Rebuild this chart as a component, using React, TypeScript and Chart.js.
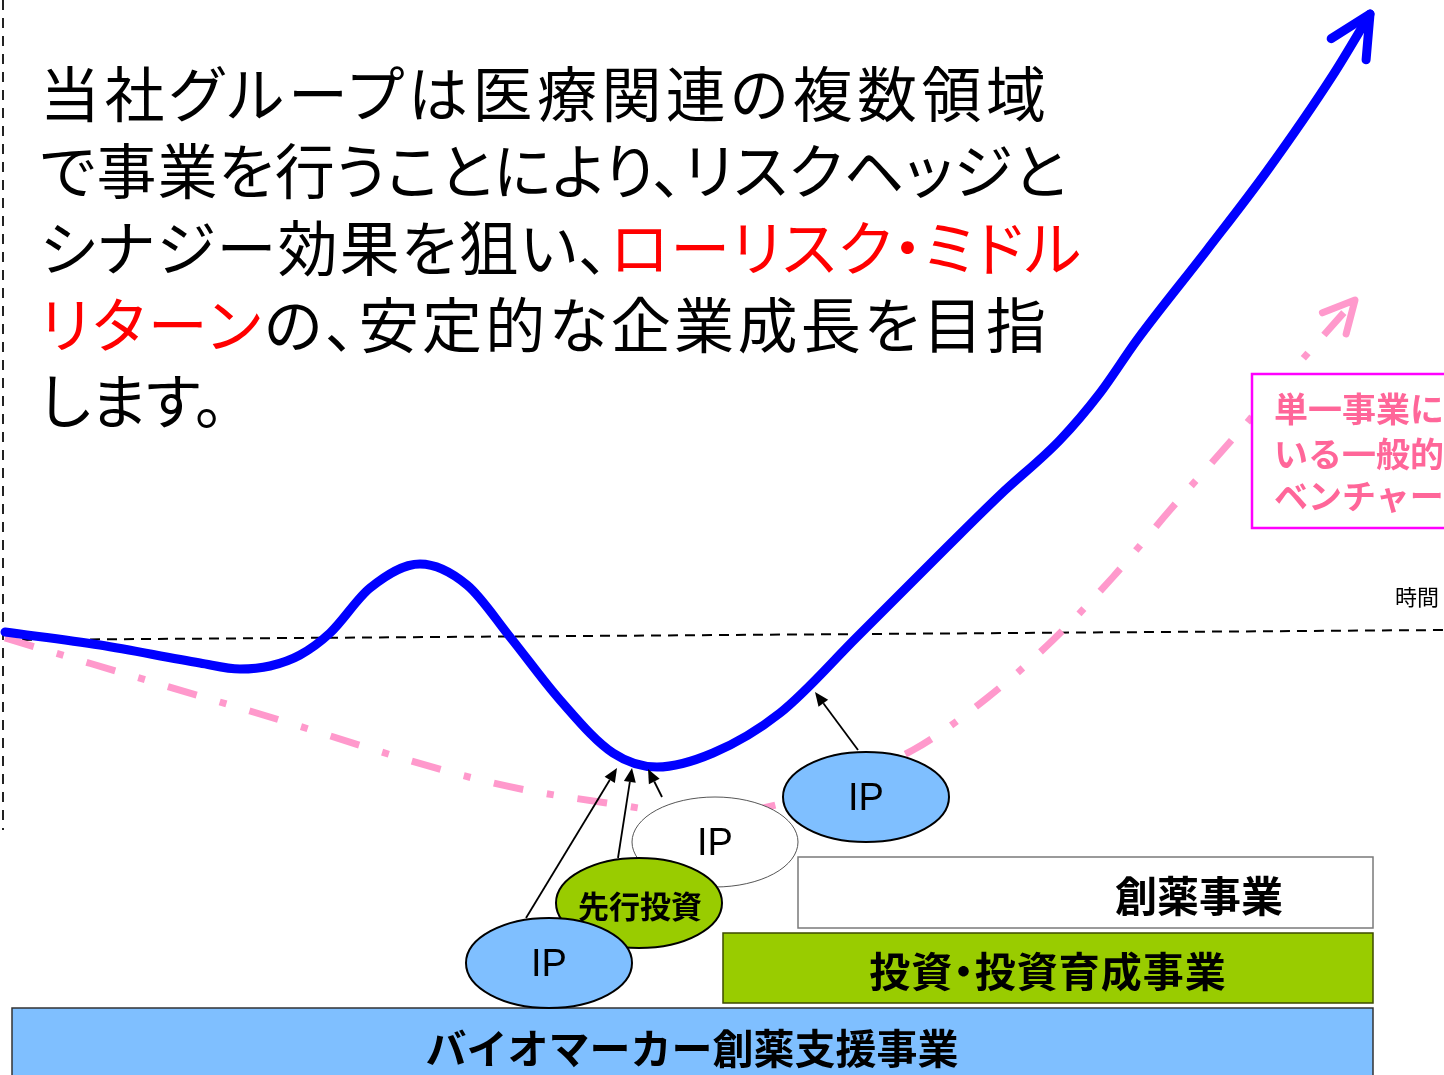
import React, { useEffect, useRef } from "react";
import { Chart, registerables } from "chart.js";

Chart.register(...registerables);

const W = 1444;
const H = 1075;

// ---- data (x = time, y = corporate value relative to the baseline) ----
const blueTime = [5, 100, 200, 240, 270, 300, 330, 370, 420, 467, 510, 560, 613, 657, 713, 780, 857, 947, 1000, 1060, 1100, 1137, 1207, 1267, 1333, 1370];
const blueValue = [8, -5, -23, -29, -26, -15, 7, 52, 76, 55, 3, -60, -113, -127, -113, -73, 3, 93, 145, 200, 247, 300, 390, 469, 565, 626];

const pinkTime = [5, 250, 493, 620, 700, 783, 913, 987, 1053, 1113, 1170, 1230, 1300, 1355];
const pinkValue = [2, -71, -143, -165, -175, -163, -110, -58, 0, 63, 130, 198, 278, 340];

const baseTime = [5, 1444];
const baseValue = [0, 10];

const axisTime = [3, 3];
const axisValue = [640, -190];

const xMin = 0, xMax = 1444, yMin = -435, yMax = 640;

// ---- text ----
const introLines: { parts: { t: string; red?: boolean }[] }[] = [
  { parts: [{ t: "当社グループは医療関連の複数領域" }] },
  { parts: [{ t: "で事業を行うことにより、リスクヘッジと" }] },
  { parts: [{ t: "シナジー効果を狙い、" }, { t: "ローリスク・ミドル", red: true }] },
  { parts: [{ t: "リターン", red: true }, { t: "の、安定的な企業成長を目指" }] },
  { parts: [{ t: "します。" }] },
];
const pinkNote = ["単一事業に依存して", "いる一般的なバイオ", "ベンチャーの成長"];
const timeLabel = "時間";
const ipLabel = "IP";
const advanceLabel = "先行投資";
const businessLabels = ["創薬事業", "投資・投資育成事業", "バイオマーカー創薬支援事業"];

// ---- layout (in data units) ----
const ellipses = [
  { t: 715, v: -202, rt: 83, rv: 45, fill: "#ffffff", stroke: "#555555", lw: 1 },
  { t: 639, v: -263, rt: 83, rv: 45, fill: "#99cc00", stroke: "#000000", lw: 2 },
  { t: 549, v: -323, rt: 83, rv: 45, fill: "#7fbfff", stroke: "#000000", lw: 2 },
  { t: 866, v: -157, rt: 83, rv: 45, fill: "#7fbfff", stroke: "#000000", lw: 2 },
];
const boxes = [
  { t0: 798, t1: 1373, v0: -217, v1: -288, fill: "#ffffff", stroke: "#7a7a7a" },
  { t0: 723, t1: 1373, v0: -293, v1: -363, fill: "#99cc00", stroke: "#3d4a00" },
  { t0: 12, t1: 1373, v0: -368, v1: -450, fill: "#7fbfff", stroke: "#333333" },
];
const pinkBox = { t0: 1252, t1: 1470, v0: 266, v1: 112 };
const arrows = [
  { f: [526, -278], to: [617, -128] },
  { f: [618, -218], to: [632, -128] },
  { f: [662, -157], to: [648, -129] },
  { f: [858, -110], to: [815, -52] },
];

const toPxX = (t: number) => ((t - xMin) / (xMax - xMin)) * W;
const toPxY = (v: number) => ((yMax - v) / (yMax - yMin)) * H;

const zip = (xs: number[], ys: number[]) => xs.map((x, i) => ({ x, y: ys[i] }));

const overlayPlugin = {
  id: "overlay",
  afterDatasetsDraw(chart: any) {
    const ctx: CanvasRenderingContext2D = chart.ctx;
    const xs = chart.scales.x;
    const ys = chart.scales.y;
    const px = (t: number) => xs.getPixelForValue(t);
    const py = (v: number) => ys.getPixelForValue(v);

    const barbs = (times: number[], vals: number[], color: string, lw: number, len: number, ang: number) => {
      const n = times.length;
      const x1 = px(times[n - 1]), y1 = py(vals[n - 1]);
      const x0 = px(times[n - 2]), y0 = py(vals[n - 2]);
      const a = Math.atan2(y0 - y1, x0 - x1);
      ctx.save();
      ctx.strokeStyle = color;
      ctx.lineWidth = lw;
      ctx.lineCap = "round";
      ctx.lineJoin = "round";
      ctx.setLineDash([]);
      ctx.beginPath();
      ctx.moveTo(x1 + len * Math.cos(a + ang), y1 + len * Math.sin(a + ang));
      ctx.lineTo(x1, y1);
      ctx.lineTo(x1 + len * Math.cos(a - ang), y1 + len * Math.sin(a - ang));
      ctx.stroke();
      ctx.restore();
    };
    barbs(blueTime, blueValue, "#0000ff", 9, 46, 0.46);
    barbs(pinkTime, pinkValue, "#ff99cc", 7, 35, 0.47);

    ctx.save();
    // pink note box
    {
      const x = px(pinkBox.t0), y = py(pinkBox.v0);
      const w = px(pinkBox.t1) - x, h = py(pinkBox.v1) - y;
      ctx.fillStyle = "#ffffff";
      ctx.fillRect(x, y, w, h);
      ctx.strokeStyle = "#ff00ff";
      ctx.lineWidth = 2.5;
      ctx.strokeRect(x, y, w, h);
    }
    // business boxes
    boxes.forEach((b) => {
      const x = px(b.t0), y = py(b.v0);
      const w = px(b.t1) - x, h = py(b.v1) - y;
      ctx.fillStyle = b.fill;
      ctx.fillRect(x, y, w, h);
      ctx.strokeStyle = b.stroke;
      ctx.lineWidth = 1.5;
      ctx.strokeRect(x, y, w, h);
    });
    // ellipses
    ellipses.forEach((e) => {
      const cx = px(e.t), cy = py(e.v);
      const rx = Math.abs(px(e.t + e.rt) - cx);
      const ry = Math.abs(py(e.v + e.rv) - cy);
      ctx.beginPath();
      ctx.ellipse(cx, cy, rx, ry, 0, 0, Math.PI * 2);
      ctx.fillStyle = e.fill;
      ctx.fill();
      ctx.strokeStyle = e.stroke;
      ctx.lineWidth = e.lw;
      ctx.stroke();
    });
    // black arrows
    arrows.forEach((ar) => {
      const x0 = px(ar.f[0]), y0 = py(ar.f[1]);
      const x1 = px(ar.to[0]), y1 = py(ar.to[1]);
      const a = Math.atan2(y1 - y0, x1 - x0);
      const hl = 14, hw = 6;
      const bx = x1 - hl * Math.cos(a), by = y1 - hl * Math.sin(a);
      ctx.strokeStyle = "#000";
      ctx.lineWidth = 1.8;
      ctx.beginPath();
      ctx.moveTo(x0, y0);
      ctx.lineTo(bx, by);
      ctx.stroke();
      ctx.fillStyle = "#000";
      ctx.beginPath();
      ctx.moveTo(x1, y1);
      ctx.lineTo(bx + hw * Math.sin(a), by - hw * Math.cos(a));
      ctx.lineTo(bx - hw * Math.sin(a), by + hw * Math.cos(a));
      ctx.closePath();
      ctx.fill();
    });
    ctx.restore();
  },
};

const JP = '"Noto Sans CJK JP", "Noto Sans CJK SC", sans-serif';

export default function App() {
  const canvasRef = useRef<HTMLCanvasElement | null>(null);

  useEffect(() => {
    if (!canvasRef.current) return;
    const chart = new Chart(canvasRef.current, {
      type: "line",
      data: {
        datasets: [
          {
            label: "当社グループ",
            data: zip(blueTime, blueValue),
            borderColor: "#0000ff",
            borderWidth: 9,
            cubicInterpolationMode: "monotone",
            borderCapStyle: "round",
            pointRadius: 0,
            fill: false,
            order: 0,
          },
          {
            label: "単一事業ベンチャー",
            data: zip(pinkTime, pinkValue),
            borderColor: "#ff99cc",
            borderWidth: 7,
            borderDash: [30, 24, 7, 24],
            cubicInterpolationMode: "monotone",
            pointRadius: 0,
            fill: false,
            order: 1,
          },
          {
            label: "基準",
            data: zip(baseTime, baseValue),
            borderColor: "#000000",
            borderWidth: 2,
            borderDash: [10, 7],
            pointRadius: 0,
            fill: false,
            order: 2,
          },
          {
            label: "価値",
            data: zip(axisTime, axisValue),
            borderColor: "#222222",
            borderWidth: 2,
            borderDash: [10, 8],
            pointRadius: 0,
            fill: false,
            order: 3,
          },
        ],
      } as any,
      options: {
        responsive: false,
        animation: false,
        events: [],
        layout: { padding: 0, autoPadding: false },
        plugins: { legend: { display: false }, tooltip: { enabled: false }, title: { display: false } },
        scales: {
          x: { type: "linear", min: xMin, max: xMax, display: false },
          y: { type: "linear", min: yMin, max: yMax, display: false },
        },
      } as any,
      plugins: [overlayPlugin],
    });
    return () => chart.destroy();
  }, []);

  const lineCenters = [94, 171, 248, 325, 401];
  const lineEnds = [1046, 1066, 1081, 1046, 0];
  const F = 60;
  const LH = 77;

  const centered = (cx: number, cy: number, size: number, extra: React.CSSProperties = {}): React.CSSProperties => ({
    position: "absolute",
    left: cx,
    top: cy,
    transform: "translate(-50%, -50%)",
    fontSize: size,
    lineHeight: 1,
    whiteSpace: "nowrap",
    ...extra,
  });

  return (
    <div style={{ position: "absolute", left: 0, top: 0, width: W, height: H, overflow: "hidden", background: "#fff" }}>
      <canvas ref={canvasRef} width={W} height={H} style={{ display: "block", position: "absolute", left: 0, top: 0 }} />

      {introLines.map((ln, i) => (
        <div
          key={i}
          style={{
            position: "absolute",
            left: 40,
            top: lineCenters[i] - LH / 2 - 0.056 * F,
            width: lineEnds[i] ? lineEnds[i] - 40 : undefined,
            fontFamily: JP,
            fontSize: F,
            lineHeight: `${LH}px`,
            whiteSpace: "nowrap",
            fontFeatureSettings: '"palt"',
            textAlign: lineEnds[i] ? "justify" : "left",
            textAlignLast: lineEnds[i] ? "justify" : "left",
            color: "#000",
          } as React.CSSProperties}
        >
          {ln.parts.map((p, j) => (
            <span key={j} style={{ color: p.red ? "#ff0000" : "#000" }}>
              {p.t}
            </span>
          ))}
        </div>
      ))}

      {pinkNote.map((s, i) => (
        <div
          key={i}
          style={{
            position: "absolute",
            left: 1274,
            top: [410, 455, 497][i] - 17 - 2,
            fontFamily: JP,
            fontSize: 34,
            fontWeight: 700,
            lineHeight: "34px",
            whiteSpace: "nowrap",
            color: "#ff6699",
          }}
        >
          {s}
        </div>
      ))}

      <div style={{ position: "absolute", left: 1395, top: 583, fontFamily: JP, fontSize: 22, lineHeight: "24px", whiteSpace: "nowrap", color: "#000" }}>
        {timeLabel}
      </div>

      <div style={centered(toPxX(549), toPxY(-323), 38, { fontFamily: '"Liberation Sans", Arial, sans-serif' })}>{ipLabel}</div>
      <div style={centered(toPxX(715), toPxY(-202), 38, { fontFamily: '"Liberation Sans", Arial, sans-serif' })}>{ipLabel}</div>
      <div style={centered(toPxX(866), toPxY(-157), 38, { fontFamily: '"Liberation Sans", Arial, sans-serif' })}>{ipLabel}</div>
      <div style={centered(toPxX(640), 904, 31, { fontFamily: JP, fontWeight: 700 })}>{advanceLabel}</div>

      <div style={centered(1199, 894, 42, { fontFamily: JP, fontWeight: 700 })}>{businessLabels[0]}</div>
      <div style={centered(1048, 969, 41, { fontFamily: JP, fontWeight: 700, fontFeatureSettings: '"palt"', letterSpacing: 1 })}>{businessLabels[1]}</div>
      <div style={centered(692, 1046, 41, { fontFamily: JP, fontWeight: 700 })}>{businessLabels[2]}</div>
    </div>
  );
}
